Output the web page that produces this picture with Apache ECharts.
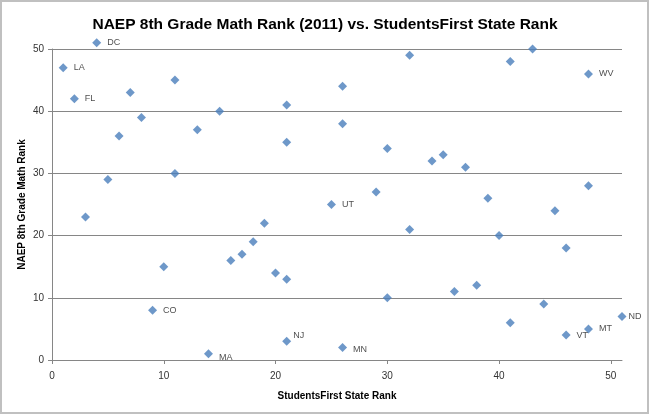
<!DOCTYPE html>
<html style="height: 100%">
<head>
<meta charset="utf-8">
<title>NAEP vs StudentsFirst</title>
<script src="https://cdn.jsdelivr.net/npm/echarts@6/dist/echarts.min.js"></script>
</head>
<body style="height: 100%; margin: 0; background: #fff">
<div id="container" style="width: 650px; height: 415px"></div>
<script type="text/javascript">

// StudentsFirst state rank (x), NAEP 8th grade math rank (y), state label
let sfRank = [4, 1, 2, 7, 6, 8, 11, 13, 15, 21, 21, 5, 11,
              32, 43, 41, 48, 26, 26, 30, 34, 35, 37, 48, 29, 39, 25, 45,
              3, 19, 18, 17, 16, 10, 20, 21, 9, 21, 14,
              32, 40, 46, 36, 38, 30, 44, 41, 51, 48, 46, 26];
let naepRank = [51, 47, 42, 43, 36, 39, 45, 37, 40, 41, 35, 29, 30,
                49, 50, 48, 46, 44, 38, 34, 32, 33, 31, 28, 27, 26, 25, 24,
                23, 22, 19, 17, 16, 15, 14, 13, 8, 3, 1,
                21, 20, 18, 11, 12, 10, 9, 6, 7, 5, 4, 2];
let stateName = ['DC', 'LA', 'FL', '', '', '', '', '', '', '', '', '', '',
                 '', '', '', 'WV', '', '', '', '', '', '', '', '', '', 'UT', '',
                 '', '', '', '', '', '', '', '', 'CO', 'NJ', 'MA',
                 '', '', '', '', '', '', '', '', 'ND', 'MT', 'VT', 'MN'];

// small nudges so labels sit like the original
let labelOffset = {NJ: [-4, -6], MA: [0, 4], MN: [0, 2], ND: [-4, 0]};

let points = sfRank.map(function (x, i) {
    let name = stateName[i];
    let item = {value: [x, naepRank[i]], name: name};
    if (labelOffset[name]) item.label = {offset: labelOffset[name]};
    return item;
});

let chart = echarts.init(document.getElementById('container'));
let font = 'Liberation Sans, Arial, sans-serif';

chart.setOption({
    animation: false,
    title: {
        text: 'NAEP 8th Grade Math Rank (2011) vs. StudentsFirst State Rank',
        left: 'center',
        top: 12,
        textStyle: {fontFamily: font, fontSize: 15.5, fontWeight: 'bold', color: '#000'}
    },
    graphic: [{
        type: 'rect',
        shape: {x: 1, y: 1, width: 647, height: 412},
        style: {fill: 'none', stroke: '#c0c0c0', lineWidth: 2},
        silent: true
    }],
    grid: {left: 52, right: 28, top: 49, bottom: 55, containLabel: false},
    xAxis: {
        type: 'value',
        min: 0, max: 51, interval: 10,
        name: 'StudentsFirst State Rank',
        nameLocation: 'middle',
        nameGap: 31,
        nameMoveOverlap: false,
        nameTextStyle: {fontFamily: font, fontSize: 10, fontWeight: 'bold', color: '#000'},
        axisLine: {show: true, lineStyle: {color: '#868686'}},
        axisTick: {show: true, length: 4, lineStyle: {color: '#868686'}},
        axisLabel: {fontFamily: font, fontSize: 10, color: '#333', margin: 11,
                    showMaxLabel: false},
        splitLine: {show: false}
    },
    yAxis: {
        type: 'value',
        min: 0, max: 50, interval: 10,
        name: 'NAEP 8th Grade Math Rank',
        nameLocation: 'middle',
        nameGap: 25,
        nameMoveOverlap: false,
        nameTextStyle: {fontFamily: font, fontSize: 10, fontWeight: 'bold', color: '#000'},
        axisLine: {show: true, lineStyle: {color: '#868686'}},
        axisTick: {show: true, length: 4, lineStyle: {color: '#868686'}},
        axisLabel: {fontFamily: font, fontSize: 10, color: '#333', margin: 8},
        splitLine: {show: true, lineStyle: {color: '#868686', width: 1}}
    },
    series: [{
        type: 'scatter',
        symbol: 'diamond',
        symbolSize: [9, 9],
        clip: false,
        itemStyle: {color: '#4a7ebb'},
        label: {
            show: true,
            position: 'right',
            distance: 6,
            formatter: function (p) { return p.name; },
            fontFamily: font,
            fontSize: 9,
            color: '#222'
        },
        data: points
    }]
});
</script>
</body>
</html>
